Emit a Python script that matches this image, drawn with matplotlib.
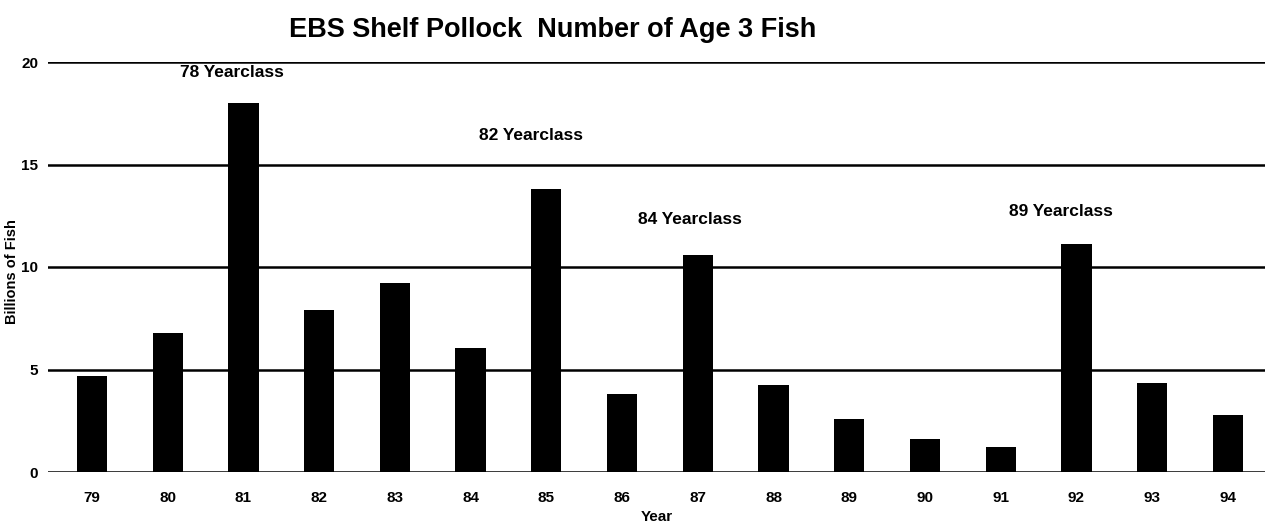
import matplotlib
matplotlib.use("Agg")
import matplotlib.pyplot as plt

years = ["79", "80", "81", "82", "83", "84", "85", "86", "87", "88", "89", "90", "91", "92", "93", "94"]
age3_billions = [4.7, 6.8, 18.0, 7.9, 9.2, 6.05, 13.8, 3.8, 10.6, 4.25, 2.6, 1.6, 1.2, 11.1, 4.35, 2.8]
yearclass_labels = ["78 Yearclass", "82 Yearclass", "84 Yearclass", "89 Yearclass"]
yearclass_x = [1.85, 5.8, 7.9, 12.8]
yearclass_y = [19.5, 16.4, 12.3, 12.7]
y_ticks = [0, 5, 10, 15, 20]

plt.rcParams['font.family'] = ['Liberation Sans', 'DejaVu Sans']

fig = plt.figure(figsize=(12.74, 5.32), dpi=100)
ax = fig.add_axes([48/1274, 60/532, 1217/1274, 410/532])

x = list(range(len(years)))
ax.bar(x, age3_billions, width=0.4, color="black", zorder=3)

for yt in y_ticks:
    ax.axhline(yt, color="black", lw=1.8, zorder=2)

ax.set_xlim(-0.58, 15.49)
ax.set_ylim(0, 20)
ax.set_yticks(y_ticks)
ax.set_yticklabels([str(v) for v in y_ticks], fontsize=11, fontweight="bold")
ax.set_xticks(x)
ax.set_xticklabels(years, fontsize=11, fontweight="bold")
ax.tick_params(axis="both", length=0)
ax.tick_params(axis="y", pad=7)
ax.tick_params(axis="x", pad=14)
for s in ax.spines.values():
    s.set_visible(False)

for lbl, lx, ly in zip(yearclass_labels, yearclass_x, yearclass_y):
    ax.text(lx, ly, lbl, ha="center", va="center", fontsize=12.5, fontweight="bold")

ax.set_xlabel("Year", fontsize=11, fontweight="bold", labelpad=3)
ax.set_ylabel("Billions of Fish", fontsize=10.5, fontweight="bold")
ax.yaxis.set_label_coords(-0.0235, 0.49)

fig.text(0.434, 1 - 30/532, "EBS Shelf Pollock  Number of Age 3 Fish",
         ha="center", va="center", fontsize=19.5, fontweight="bold")

fig.savefig("out.png", dpi=100)
